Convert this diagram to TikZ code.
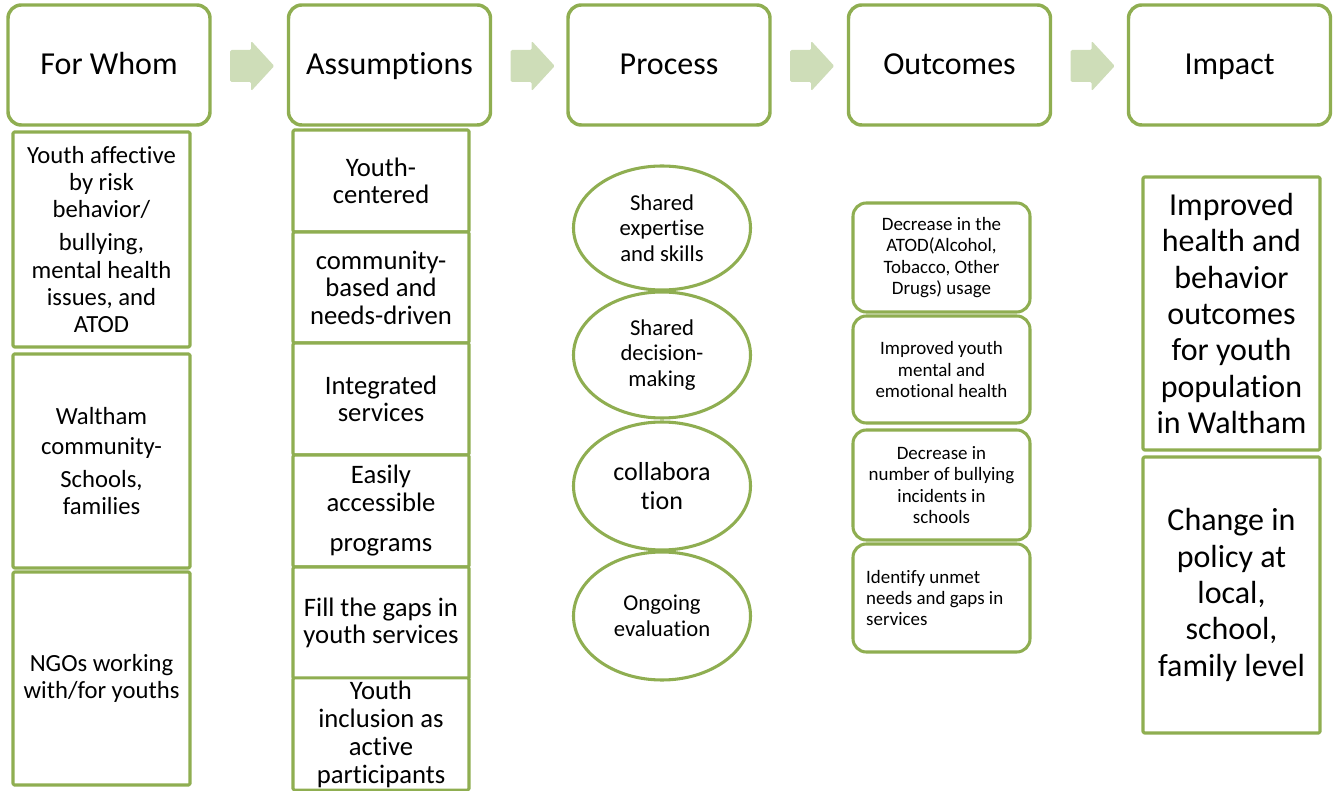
\documentclass[tikz,border=0pt]{standalone}
\usepackage{fontspec}
\setmainfont{Carlito}[Ligatures=NoCommon]
\usetikzlibrary{calc,shapes.geometric}
\definecolor{leaf}{RGB}{143,174,81}
\definecolor{leaflight}{RGB}{206,221,184}
\begin{document}
\begin{tikzpicture}[x=0.75pt, y=-0.75pt, line join=round,
	head/.style={draw=leaf, line width=2.6pt, rounded corners=10pt, fill=white,
		minimum width=151.5pt, minimum height=90pt, text height=16.6pt, text depth=3pt,
		font=\fontsize{24}{28}\selectfont},
	cell/.style={draw=leaf, line width=2.3pt, rounded corners=1pt, fill=white,
		minimum width=132.75pt, align=center, inner sep=2pt},
	whomtxt/.style={cell, font=\fontsize{18.5}{20.3}\selectfont},
	assumtxt/.style={cell, minimum width=132pt, font=\fontsize{20}{20.6}\selectfont},
	oval/.style={draw=leaf, line width=2.3pt, ellipse, fill=white, inner sep=0pt,
		minimum width=132.75pt, align=center, font=\fontsize{17}{19.2}\selectfont},
	outc/.style={cell, rounded corners=10pt, font=\fontsize{14.2}{16.1}\selectfont},
	imptxt/.style={cell, font=\fontsize{24}{27.2}\selectfont}
	]
	\useasboundingbox (0,0) rectangle (1336,791);
	% column heads
	\node[head] (whom) at (109,65) {For Whom};
	\node[head] (assum) at (389.5,65) {Assumptions};
	\node[head] (proc) at (669,65) {Process};
	\node[head] (outcome) at (949.5,65) {Outcomes};
	\node[head] (impact) at (1229.5,65) {Impact};
	\foreach \a/\b in {whom/assum, assum/proc, proc/outcome, outcome/impact}
	\fill[leaflight, rounded corners=1pt] ($(\a.east)+(18.5,-15)$) -- ++(21,0) -- ++(0,-9)
		-- ++(23,25) -- ++(-23,25) -- ++(0,-9) -- ++(-21,0) -- cycle;
	% for whom
	\node[whomtxt, minimum height=161.25pt] (w1) at (101.5,239.5)
		{Youth affective\\by risk\\behavior/\\[4.5pt]bullying,\\mental health\\issues, and\\ATOD};
	\node[whomtxt, minimum height=160.5pt] (w2) at (101.5,461)
		{Waltham\\[2.25pt]community-\\[4.5pt]Schools,\\families};
	\node[whomtxt, minimum height=159.75pt] (w3) at (101.5,678.5)
		{NGOs working\\with/for youths};
	% assumptions
	\node[assumtxt, minimum height=76.5pt] (a1) at (381,181) {Youth-\\centered};
	\node[assumtxt, minimum height=83.25pt] (a2) at (381,287.5) {community-\\based and\\needs-driven};
	\node[assumtxt, minimum height=84pt] (a3) at (381,399) {Integrated\\services};
	\node[assumtxt, minimum height=84pt] (a4) at (381,511) {Easily\\accessible\\[9.75pt]programs};
	\node[assumtxt, minimum height=84pt] (a5) at (381,623) {Fill the gaps in\\youth services};
	\node[assumtxt, minimum height=82.5pt, font=\fontsize{20}{21}\selectfont] (a6) at (381,734)
		{Youth\\inclusion as\\active\\participants};
	% process
	\node[oval, minimum height=93pt] (p1) at (662,228) {Shared\\expertise\\and skills};
	\node[oval, minimum height=94.5pt] (p2) at (662,355) {Shared\\decision-\\making};
	\node[oval, minimum height=96pt, font=\fontsize{19.5}{21.75}\selectfont] (p3) at (662,486)
		{collabora\\tion};
	\node[oval, minimum height=96pt] (p4) at (662,616) {Ongoing\\evaluation};
	% outcomes
	\node[outc, minimum height=81.75pt] (o1) at (941.5,257.5)
		{Decrease in the\\ATOD(Alcohol,\\Tobacco, Other\\Drugs) usage};
	\node[outc, minimum height=80.25pt] (o2) at (941.5,369.5)
		{Improved youth\\mental and\\emotional health};
	\node[outc, minimum height=82.5pt] (o3) at (941.5,485)
		{Decrease in\\number of bullying\\incidents in\\schools};
	\node[outc, minimum height=81pt, align=flush left, text width=113pt, inner xsep=9.75pt] (o4) at (941.5,598)
		{Identify unmet\\needs and gaps in\\services};
	% impact
	\node[imptxt, minimum height=204.75pt] (i1) at (1231.5,313.5)
		{Improved\\health and\\behavior\\outcomes\\for youth\\population\\in Waltham};
	\node[imptxt, minimum height=207pt] (i2) at (1231.5,595)
		{Change in\\policy at\\local,\\school,\\family level};
\end{tikzpicture}
\end{document}
